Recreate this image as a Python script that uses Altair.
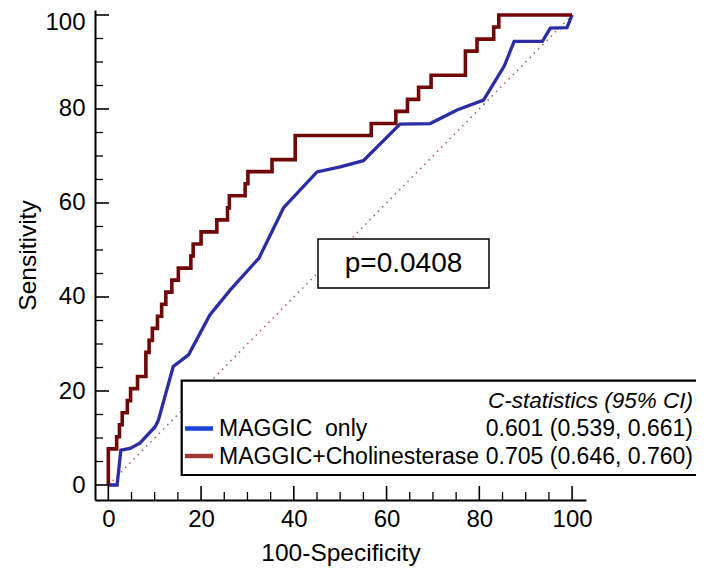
import altair as alt
import pandas as pd

# ---- data ----
red_x = [0, 0, 1.8, 2.4, 3.0, 4.1, 4.8, 6.3, 8.1, 8.8, 9.5, 10.6, 11.5, 12.4, 13.7, 15.1,
         17.8, 18.3, 20.0, 23.4, 25.7, 26.1, 29.5, 30.1, 35.3, 40.3, 56.7, 62.0, 64.5,
         66.9, 69.6, 77.0, 79.5, 83.1, 84.2, 100]
red_y = [0, 7.69, 10.26, 12.82, 15.38, 17.95, 20.51, 23.08, 28.21, 30.77, 33.33, 35.90,
         38.46, 41.03, 43.59, 46.15, 48.72, 51.28, 53.85, 56.41, 58.97, 61.54, 64.10,
         66.67, 69.23, 74.36, 76.92, 79.49, 82.05, 84.62, 87.18, 92.31, 94.87, 97.44,
         100, 100]

blue_x = [0, 1.9, 2.7, 4.7, 6.8, 10.1, 10.8, 14.0, 17.3, 21.9, 26.3, 32.5, 37.8, 45.0,
          50.0, 55.0, 62.9, 69.4, 75.2, 80.9, 85.4, 87.5, 93.6, 95.3, 98.9, 100]
blue_y = [0, 0, 7.4, 7.8, 8.9, 12.4, 13.8, 25.2, 27.7, 36.2, 41.5, 48.3, 59.0, 66.6,
          67.7, 69.0, 76.8, 76.9, 79.8, 81.9, 89.2, 94.4, 94.4, 97.2, 97.3, 100]

diag_x = [0, 100]
diag_y = [0, 100]

major_ticks = [0, 20, 40, 60, 80, 100]
minor_ticks = [5, 10, 15, 25, 30, 35, 45, 50, 55, 65, 70, 75, 85, 90, 95]

series_names = ["MAGGIC\u00a0 only", "MAGGIC+Cholinesterase"]
cstats = ["0.601 (0.539, 0.661)", "0.705 (0.646, 0.760)"]
cstat_header = "C-statistics (95% CI)"
p_text = "p=0.0408"

# ---- styling ----
FONT = "Liberation Sans"
W, H = 491, 490
RED = "#700808"
BLUE = "#2c2ca4"
RED_SW = "#a03a30"
BLUE_SW = "#1a44d8"

xscale = alt.Scale(domain=[-2.87, 103.0], nice=False, zero=False)
yscale = alt.Scale(domain=[-3.19, 101.06], nice=False, zero=False)

xaxis = alt.Axis(orient="bottom", values=major_ticks, ticks=False, grid=False,
                 domain=True, domainColor="black", domainWidth=2,
                 labelFont=FONT, labelFontSize=24, labelColor="black",
                 labelPadding=7, labelOverlap=False,
                 title="100-Specificity", titleFont=FONT,
                 titleFontSize=24.5, titleFontWeight="normal", titleColor="black",
                 titlePadding=10)
yaxis = alt.Axis(orient="left", values=major_ticks, ticks=False, grid=False,
                 domain=True, domainColor="black", domainWidth=2,
                 labelFont=FONT, labelFontSize=24, labelColor="black",
                 labelPadding=10, labelOverlap=False,
                 labelOffset={"condition": {"test": "datum.value === 100", "value": 7.5}, "value": 0},
                 title="Sensitivity", titleFont=FONT,
                 titleFontSize=24.5, titleFontWeight="normal", titleColor="black",
                 titlePadding=4)

red_df = pd.DataFrame({"x": red_x, "y": red_y, "i": list(range(len(red_x)))})
blue_df = pd.DataFrame({"x": blue_x, "y": blue_y, "i": list(range(len(blue_x)))})
diag_df = pd.DataFrame({"x": diag_x, "y": diag_y})

diag = alt.Chart(diag_df).mark_line(color="#b05858", strokeWidth=1.5,
                                     strokeDash=[1.5, 4.5]).encode(
    x=alt.X("x:Q", scale=xscale, axis=xaxis),
    y=alt.Y("y:Q", scale=yscale, axis=yaxis),
)

blue = alt.Chart(blue_df).mark_line(color=BLUE, strokeWidth=3.3).encode(
    x=alt.X("x:Q", scale=xscale),
    y=alt.Y("y:Q", scale=yscale),
    order="i:Q",
)

red = alt.Chart(red_df).mark_line(color=RED, strokeWidth=3.6,
                                   interpolate="step-after").encode(
    x=alt.X("x:Q", scale=xscale),
    y=alt.Y("y:Q", scale=yscale),
    order="i:Q",
)

# inward ticks
xmaj = alt.Chart(pd.DataFrame({"x": major_ticks})).mark_rule(color="black", strokeWidth=1.6).encode(
    x=alt.X("x:Q", scale=xscale), y=alt.value(H), y2=alt.value(H - 14))
xmin = alt.Chart(pd.DataFrame({"x": minor_ticks})).mark_rule(color="black", strokeWidth=1.3).encode(
    x=alt.X("x:Q", scale=xscale), y=alt.value(H), y2=alt.value(H - 8))
ymaj = alt.Chart(pd.DataFrame({"y": major_ticks})).mark_rule(color="black", strokeWidth=1.6).encode(
    y=alt.Y("y:Q", scale=yscale), x=alt.value(0), x2=alt.value(14))
ymin = alt.Chart(pd.DataFrame({"y": minor_ticks})).mark_rule(color="black", strokeWidth=1.3).encode(
    y=alt.Y("y:Q", scale=yscale), x=alt.value(0), x2=alt.value(8))

one = pd.DataFrame({"a": [0]})

# p-value box
pbox = alt.Chart(one).mark_rect(fill="white", stroke="black", strokeWidth=1.5).encode(
    x=alt.value(223), x2=alt.value(394), y=alt.value(229), y2=alt.value(278))
ptext = alt.Chart(pd.DataFrame({"t": [p_text]})).mark_text(
    font=FONT, fontSize=28, color="black", align="center", baseline="middle").encode(
    x=alt.value(308.5), y=alt.value(254), text="t:N")

# legend box
lbox = alt.Chart(one).mark_rect(fill="white", stroke="black", strokeWidth=2.2).encode(
    x=alt.value(86.7), x2=alt.value(604), y=alt.value(370.7), y2=alt.value(465))
lhead = alt.Chart(pd.DataFrame({"t": [cstat_header]})).mark_text(
    font=FONT, fontSize=22.5, fontStyle="italic", color="black", align="right",
    baseline="middle").encode(x=alt.value(598), y=alt.value(391), text="t:N")

sw_blue = alt.Chart(one).mark_rule(color=BLUE_SW, strokeWidth=4.5).encode(
    x=alt.value(90), x2=alt.value(118), y=alt.value(418.5))
sw_red = alt.Chart(one).mark_rule(color=RED_SW, strokeWidth=4.5).encode(
    x=alt.value(90), x2=alt.value(118), y=alt.value(446))

def legend_row(name, stat, ypos):
    n = alt.Chart(pd.DataFrame({"t": [name]})).mark_text(
        font=FONT, fontSize=23, color="black", align="left", baseline="middle").encode(
        x=alt.value(124), y=alt.value(ypos), text="t:N")
    s = alt.Chart(pd.DataFrame({"t": [stat]})).mark_text(
        font=FONT, fontSize=23, color="black", align="right", baseline="middle").encode(
        x=alt.value(598), y=alt.value(ypos), text="t:N")
    return [n, s]

rows = legend_row(series_names[0], cstats[0], 419) + legend_row(series_names[1], cstats[1], 446.5)

chart = alt.layer(
    diag, blue, red, xmaj, xmin, ymaj, ymin, pbox, ptext, lbox, lhead,
    sw_blue, sw_red, *rows
).properties(
    width=W, height=H,
    background="white",
    autosize=alt.AutoSizeParams(type="none"),
    padding={"left": 87, "top": 2, "right": 110, "bottom": 66},
).configure_view(stroke=None)

chart.save("out.html", embed_options={"renderer": "svg", "actions": False})
